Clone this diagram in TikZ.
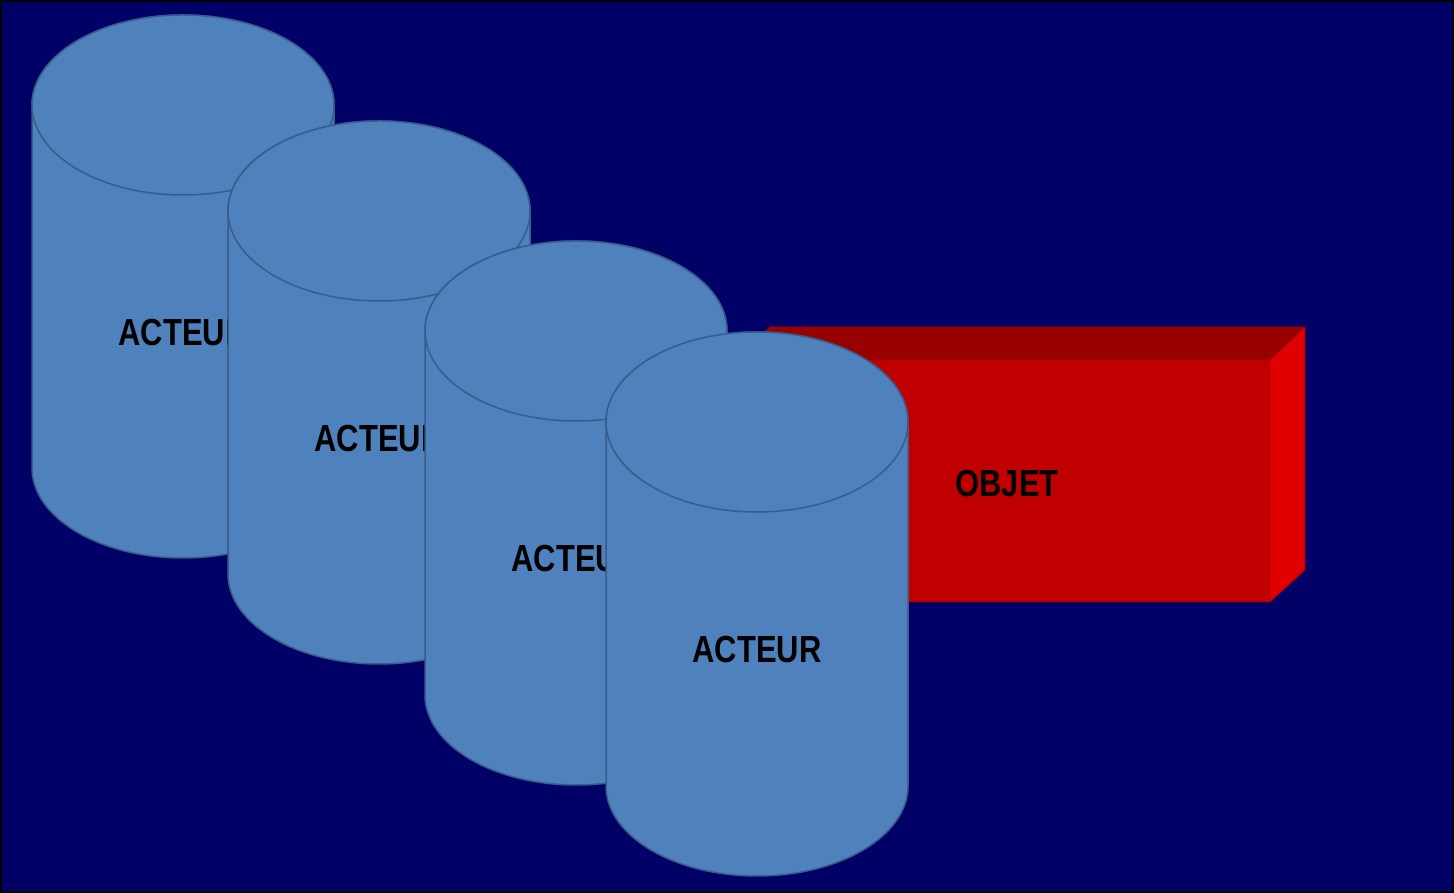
\documentclass[tikz,border=0pt]{standalone}
\usepackage{fontspec}
\newfontfamily\narrowfont{Liberation Sans}[FakeStretch=0.82]
\definecolor{bgnavy}{HTML}{000066}
\definecolor{cylfill}{HTML}{4F81BD}
\definecolor{cylline}{HTML}{385D8A}
\definecolor{boxfront}{HTML}{C00000}
\definecolor{boxtop}{HTML}{990000}
\definecolor{boxside}{HTML}{E00000}
\tikzset{
  cylshape/.style={fill=cylfill,draw=cylline,line width=1.5pt},
  lbl/.style={font=\narrowfont\bfseries\fontsize{37.7}{40}\selectfont,text=black,inner sep=0pt},
  facebox/.style={draw=boxtop!80!black,line width=0.8pt,line join=miter}
}
% cylinder: #1 name, #2 cx, #3 top-center Y, #4 bottom-center Y
\newcommand\mycyl[4]{%
  \path[cylshape] (#2-151,#3) -- (#2-151,#4)
    arc[start angle=180,end angle=360,x radius=151,y radius=90]
    -- (#2+151,#3)
    arc[start angle=0,end angle=180,x radius=151,y radius=90] -- cycle;
  \path[cylshape] (#2,#3) ellipse[x radius=151,y radius=90];
  \node[lbl] (#1) at (#2,#3-228) {ACTEUR};
}
\begin{document}
\begin{tikzpicture}[x=1pt,y=1pt]
\useasboundingbox (0,0) rectangle (1454,893);
\fill[bgnavy] (0,0) rectangle (1454,893);
\draw[black,line width=2pt] (1,1) rectangle (1453,892);
\mycyl{a1}{183}{788}{425}
\mycyl{a2}{379}{682}{319}
\mycyl{a3}{576}{562}{198}
% red box
\fill[boxfront] (735,291) rectangle (1270,533);
\fill[boxtop] (735,533) -- (770,566) -- (1305,566) -- (1270,533) -- cycle;
\fill[boxside] (1270,291) -- (1270,533) -- (1305,566) -- (1305,323) -- cycle;
\draw[boxtop,line width=0.8pt,line join=miter] (735,291) -- (1270,291) -- (1305,323) -- (1305,566) -- (770,566) -- (735,533) -- cycle;
\draw[boxtop!70!boxfront,line width=0.6pt] (735,533) -- (1270,533) -- (1305,566) (1270,533) -- (1270,291);
\node[lbl] (obj) at (1007,409) {OBJET};
\mycyl{a4}{757}{471}{107}
\end{tikzpicture}
\end{document}
